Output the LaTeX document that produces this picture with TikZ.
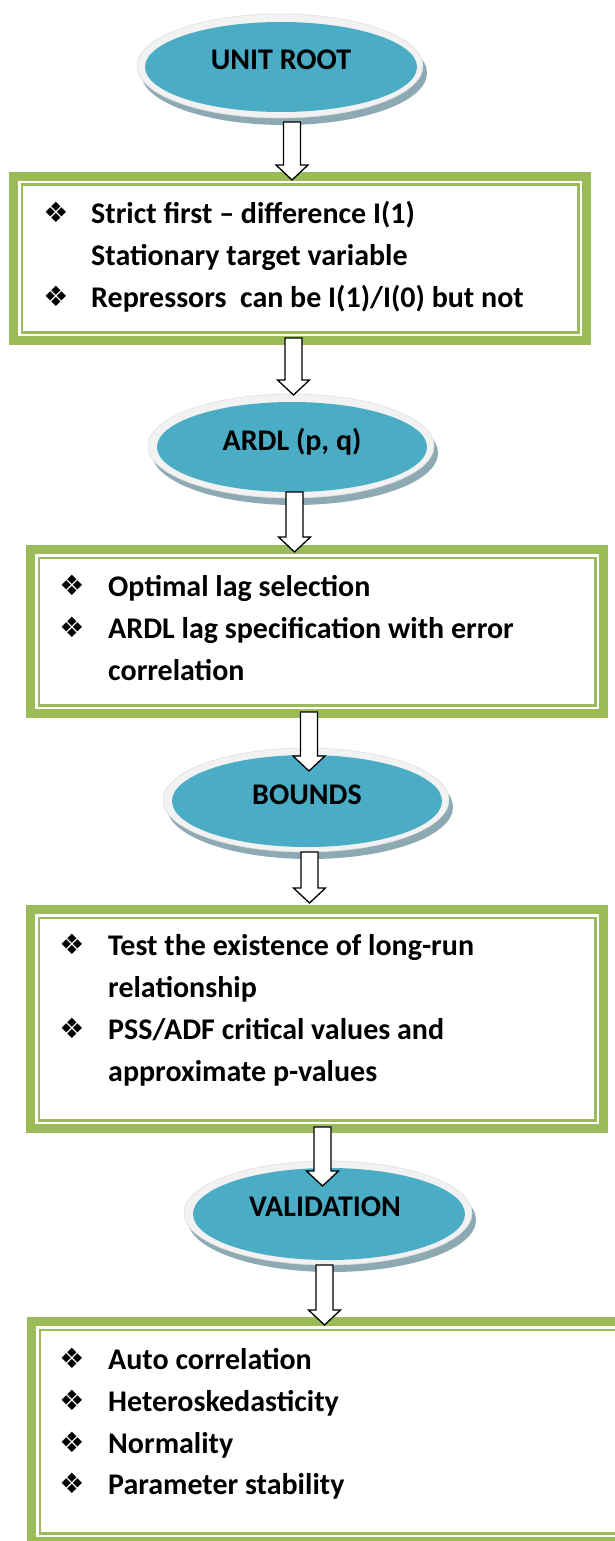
\documentclass[tikz,border=0pt]{standalone}
\usepackage{fontspec}
\setmainfont{Carlito}
\newfontfamily\dejavu{DejaVu Sans}
\usetikzlibrary{shapes.geometric,calc}
\definecolor{ovalblue}{HTML}{4BACC6}
\definecolor{boxgreen}{HTML}{9BBB59}
\definecolor{rimgray}{HTML}{F2F2F2}
\definecolor{shadowblue}{HTML}{8DA9B3}
\tikzset{
  ovalfill/.style={ellipse, fill=ovalblue, inner sep=0pt},
  ovalrim/.style={ellipse, fill=rimgray, draw=black!12, line width=0.6pt, inner sep=0pt},
  ovalshadow/.style={ellipse, fill=shadowblue, inner sep=0pt},
  ovaltext/.style={font=\fontsize{30}{36}\selectfont\bfseries, inner sep=0pt, anchor=base},
  itemtext/.style={font=\fontsize{30}{36}\selectfont\bfseries, inner sep=0pt, anchor=base west},
  bulletmark/.style={font=\dejavu\fontsize{28}{28}\selectfont, inner sep=0pt, anchor=center},
  boxframe/.style={rectangle, draw=boxgreen, line width=9pt, inner sep=0pt, outer sep=0pt, fill=white},
  thinframe/.style={draw=boxgreen, line width=2.5pt},
  blockarr/.style={draw=black, fill=white, line width=1.3pt, line join=miter},
}
\newcommand\blockarrow[2]{%
  \draw[blockarr] let \p1=(#1), \p2=(#2) in
    (\x1-8.5pt,\y1) -- (\x1-8.5pt,\y2+15pt) -- (\x1-16pt,\y2+15pt) -- (\x2,\y2)
    -- (\x1+16pt,\y2+15pt) -- (\x1+8.5pt,\y2+15pt) -- (\x1+8.5pt,\y1) -- cycle;}
\newcommand\innerframe[1]{%
  \draw[thinframe] ($(#1.north west)+(8.25pt,-8.25pt)$) rectangle ($(#1.south east)+(-8.25pt,8.25pt)$);}
\begin{document}
\begin{tikzpicture}[x=1pt,y=-1pt]
\fill[white] (0,0) rectangle (615,1541);
\clip (0,0) rectangle (615,1541);

% boxes
\node[boxframe, minimum width=573pt, minimum height=164pt] (b1) at (300,258.5) {};
\innerframe{b1}
\node[boxframe, minimum width=573pt, minimum height=164pt] (b2) at (317,631.5) {};
\innerframe{b2}
\node[boxframe, minimum width=573pt, minimum height=219pt] (b3) at (317,1019) {};
\innerframe{b3}
\node[boxframe, minimum width=594pt, minimum height=220pt] (b4) at (328.5,1431.5) {};
\innerframe{b4}

% ovals
\node[ovalshadow, minimum width=286pt, minimum height=104pt] (e1s) at (284,73) {};
\node[ovalrim, minimum width=286pt, minimum height=104pt] (e1r) at (280,66) {};
\node[ovalfill, minimum width=272pt, minimum height=90pt] (e1) at (281,67) {};
\node[ovaltext] (e1t) at (281,70) {UNIT ROOT};

\node[ovalshadow, minimum width=286pt, minimum height=104pt] (e2s) at (295,453) {};
\node[ovalrim, minimum width=286pt, minimum height=104pt] (e2r) at (291,446) {};
\node[ovalfill, minimum width=270pt, minimum height=90pt] (e2) at (292,447) {};
\node[ovaltext] (e2t) at (292,450) {ARDL (p, q)};

\node[ovalshadow, minimum width=286pt, minimum height=104pt] (e3s) at (310,807) {};
\node[ovalrim, minimum width=286pt, minimum height=104pt] (e3r) at (306,800) {};
\node[ovalfill, minimum width=270pt, minimum height=92pt] (e3) at (307,801) {};
\node[ovaltext] (e3t) at (307,804) {BOUNDS};

\node[ovalshadow, minimum width=288pt, minimum height=104pt] (e4s) at (332,1220) {};
\node[ovalrim, minimum width=288pt, minimum height=104pt] (e4r) at (328,1213) {};
\node[ovalfill, minimum width=272pt, minimum height=92pt] (e4) at (329,1214) {};
\node[ovaltext] (e4t) at (325,1216) {VALIDATION};

% box 1 text
\node[bulletmark] (m11) at (56,212) {❖};
\node[itemtext] (t11) at (91,223) {Strict first – difference I(1)};
\node[itemtext] (t12) at (91,265) {Stationary target variable};
\node[bulletmark] (m12) at (56,296) {❖};
\node[itemtext] (t13) at (91,307) {Repressors\ \ can be I(1)/I(0) but not};

% box 2 text
\node[bulletmark] (m21) at (72,585) {❖};
\node[itemtext] (t21) at (108,596) {Optimal lag selection};
\node[bulletmark] (m22) at (72,627) {❖};
\node[itemtext] (t22) at (108,638) {ARDL lag specification with error};
\node[itemtext] (t23) at (108,680) {correlation};

% box 3 text
\node[bulletmark] (m31) at (72,944) {❖};
\node[itemtext] (t31) at (108,955) {Test the existence of long-run};
\node[itemtext] (t32) at (108,997) {relationship};
\node[bulletmark] (m32) at (72,1028) {❖};
\node[itemtext] (t33) at (108,1039) {PSS/ADF critical values and};
\node[itemtext] (t34) at (108,1081) {approximate p-values};

% box 4 text
\node[bulletmark] (m41) at (72,1358) {❖};
\node[itemtext] (t41) at (108,1369) {Auto correlation};
\node[bulletmark] (m42) at (72,1400) {❖};
\node[itemtext] (t42) at (108,1411) {Heteroskedasticity};
\node[bulletmark] (m43) at (72,1442) {❖};
\node[itemtext] (t43) at (108,1453) {Normality};
\node[bulletmark] (m44) at (72,1483) {❖};
\node[itemtext] (t44) at (108,1494) {Parameter stability};

% arrows
\coordinate (a1s) at (292,122);   \coordinate (a1t) at (292,180);
\coordinate (a2s) at (293.5,338); \coordinate (a2t) at (293.5,395);
\coordinate (a3s) at (294.5,492); \coordinate (a3t) at (294.5,552);
\coordinate (a4s) at (309,712);   \coordinate (a4t) at (309,771);
\coordinate (a5s) at (309.5,852); \coordinate (a5t) at (309.5,903);
\coordinate (a6s) at (322.5,1127);\coordinate (a6t) at (322.5,1186);
\coordinate (a7s) at (324.5,1265);\coordinate (a7t) at (324.5,1325);
\blockarrow{a1s}{a1t}
\blockarrow{a2s}{a2t}
\blockarrow{a3s}{a3t}
\blockarrow{a4s}{a4t}
\blockarrow{a5s}{a5t}
\blockarrow{a6s}{a6t}
\blockarrow{a7s}{a7t}
\end{tikzpicture}
\end{document}
